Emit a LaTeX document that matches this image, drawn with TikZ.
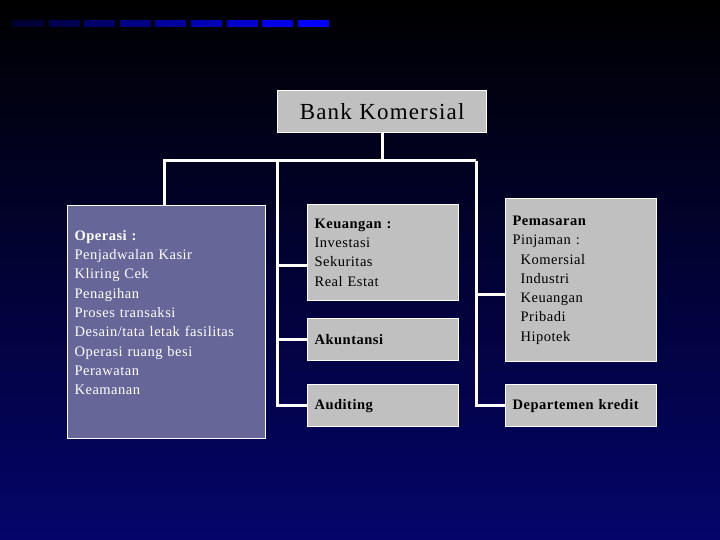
\documentclass[tikz,border=0pt]{standalone}
\usepackage{fontspec}
\setmainfont[LetterSpace=3.5]{Liberation Serif}
\newfontfamily\judul[LetterSpace=5]{Liberation Serif}
\usepackage{tikz}

\definecolor{abu}{HTML}{C0C0C0}
\definecolor{ungu}{HTML}{666699}
\definecolor{biru}{RGB}{4,4,106}

\begin{document}
\begin{tikzpicture}[
        x=1pt, y=-1pt,
        kotak/.style={rectangle, draw=white, line width=1.2pt, fill=abu, anchor=north west,
                align=left, inner sep=7pt, text width=137pt, minimum height=42pt,
                font=\fontsize{14.5}{19.3}\selectfont},
        garis/.style={draw=white, line width=3pt}
        ]
        \useasboundingbox (0,0) rectangle (720,540);
        \shade[top color=black, bottom color=biru] (0,0) rectangle (720,540);

        % strip at the top
        \foreach \i in {0,...,8} {
                \pgfmathsetmacro\p{22+78*\i/8}
                \fill[blue!\p!black] (13+35.6*\i,20) rectangle ++(31,7);
        }

        \node[kotak, align=center, text width=195pt, font=\judul\fontsize{23}{25}\selectfont] (bank) at (277,90) {Bank Komersial};
        \coordinate (kiri) at (164,161);
        \coordinate (tengah) at (277,161);
        \coordinate (kanan) at (476,161);

        \draw[garis] (bank.south) -- (bank.south |- kiri);
        \draw[garis] (kiri |- 0,205) -- (kiri) -- (kanan);
        \draw[garis] (tengah) -- (tengah |- 0,405);

        \node[kotak, fill=ungu, text=white, text width=184pt, minimum height=233pt] (operasi) at (67,205)
                {\textbf{Operasi :}\\Penjadwalan Kasir\\Kliring Cek\\Penagihan\\Proses transaksi\\Desain/tata letak fasilitas\\Operasi ruang besi\\Perawatan\\Keamanan\\ \mbox{}};
        \node[kotak, minimum height=96pt] (keuangan) at (307,204)
                {\textbf{Keuangan :}\\Investasi\\Sekuritas\\Real Estat};
        \node[kotak] (akuntansi) at (307,318) {\textbf{Akuntansi}};
        \node[kotak] (auditing) at (307,384) {\textbf{Auditing}};
        \node[kotak, minimum height=163pt] (pemasaran) at (505,198)
                {\textbf{Pemasaran}\\Pinjaman :\\\hspace*{8pt}Komersial\\\hspace*{8pt}Industri\\\hspace*{8pt}Keuangan\\\hspace*{8pt}Pribadi\\\hspace*{8pt}Hipotek};
        \node[kotak] (departemen) at (505,384) {\textbf{Departemen kredit}};

        \draw[garis] ([yshift=-13pt]keuangan.west) -| (tengah);
        \draw[garis] (akuntansi.west) -| (tengah);
        \draw[garis] (auditing.west) -| (tengah);
        \draw[garis] ([yshift=-14pt]pemasaran.west) -| (kanan);
        \draw[garis] (departemen.west) -| (kanan);
\end{tikzpicture}
\end{document}
